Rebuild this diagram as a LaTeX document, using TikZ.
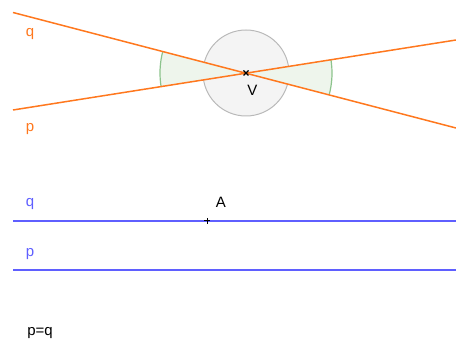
\documentclass[tikz,border=0pt]{standalone}
\usepackage{fontspec}
\setmainfont{Liberation Sans}
\definecolor{ornge}{RGB}{255,120,30}
\definecolor{blu}{RGB}{95,95,255}
\definecolor{circfill}{RGB}{244,244,244}
\definecolor{circline}{RGB}{185,185,185}
\definecolor{angfill}{RGB}{238,245,236}
\definecolor{angline}{RGB}{140,195,140}
\begin{document}
\begin{tikzpicture}[x=1pt,y=-1pt,
  oline/.style={draw=ornge,line width=1.5pt},
  bline/.style={draw=blu,line width=1.5pt},
  lbl/.style={inner sep=0pt,font=\fontsize{15}{15}\selectfont},
  olbl/.style={lbl,text=ornge},
  blbl/.style={lbl,text=blu}]
\useasboundingbox (0,0) rectangle (456,347);
\coordinate (V) at (246,73);
\coordinate (q1) at (13,12.5);
\coordinate (q2) at (456,128);
\coordinate (p1) at (13,110);
\coordinate (p2) at (456,40);
% circle
\draw[fill=circfill,draw=circline,line width=1pt] (V) circle[radius=43];
% angle sectors
\fill[angfill] (V) -- +(-165.5:86) arc[start angle=-165.5,end angle=-189.06,radius=86] -- cycle;
\draw[angline,line width=1.2pt] (V) ++(-165.5:86) arc[start angle=-165.5,end angle=-189.06,radius=86];
\fill[angfill] (V) -- +(14.5:86) arc[start angle=14.5,end angle=-9.06,radius=86] -- cycle;
\draw[angline,line width=1.2pt] (V) ++(14.5:86) arc[start angle=14.5,end angle=-9.06,radius=86];
% lines
\draw[oline] (q1) -- (q2);
\draw[oline] (p1) -- (p2);
% V point
\draw[line width=1.2pt] (V) ++(-2.5,-2.5) -- ++(5,5) (V) ++(-2.5,2.5) -- ++(5,-5);
\node[lbl] (Vl) at (252.5,90) {V};
\node[olbl] (ql) at (30,34) {q};
\node[olbl] (pl) at (30,129) {p};
% blue lines
\coordinate (bq1) at (13,221);
\coordinate (bq2) at (456,221);
\coordinate (bp1) at (13,270);
\coordinate (bp2) at (456,270);
\draw[bline] (bq1) -- (bq2);
\draw[bline] (bp1) -- (bp2);
\node[blbl] (bql) at (30,204) {q};
\node[blbl] (bpl) at (30,254) {p};
\coordinate (A) at (207,221);
\draw[line width=1pt] (A) ++(-3,0) -- ++(6,0) (A) ++(0,-3) -- ++(0,6);
\node[lbl] (Al) at (221,202) {A};
\node[lbl] (eq) at (40,333) {p=q};
\end{tikzpicture}
\end{document}
